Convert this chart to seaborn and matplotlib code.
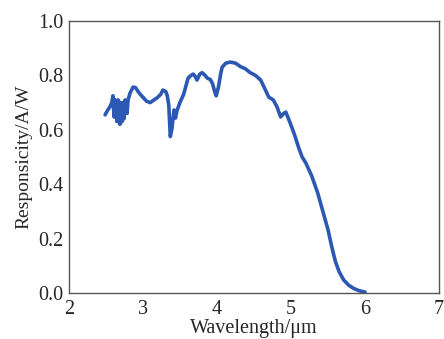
import numpy as np
import pandas as pd
import matplotlib.pyplot as plt
import seaborn as sns

# curve
wavelength = [2.49, 2.52, 2.556, 2.58, 2.596, 2.61, 2.625, 2.637, 2.65, 2.665, 2.678,
              2.69, 2.705, 2.718, 2.73, 2.745, 2.76, 2.772, 2.786, 2.80, 2.827, 2.867,
              2.90, 2.95, 3.00, 3.05, 3.10, 3.15, 3.19, 3.24, 3.27, 3.31, 3.33, 3.35,
              3.37, 3.39, 3.42, 3.44, 3.46, 3.50, 3.55, 3.61, 3.65, 3.68, 3.71, 3.73,
              3.77, 3.80, 3.84, 3.87, 3.91, 3.94, 3.97, 3.99, 4.02, 4.05, 4.07, 4.12,
              4.18, 4.25, 4.32, 4.38, 4.45, 4.52, 4.59, 4.64, 4.70, 4.76, 4.81, 4.86,
              4.90, 4.93, 4.96, 5.00, 5.05, 5.10, 5.15, 5.20, 5.28, 5.36, 5.43, 5.50,
              5.55, 5.60, 5.65, 5.71, 5.78, 5.85, 5.92, 6.00]
responsivity = [0.655, 0.67, 0.685, 0.70, 0.725, 0.647, 0.71, 0.70, 0.63, 0.71, 0.70,
                0.62, 0.70, 0.63, 0.70, 0.64, 0.71, 0.70, 0.66, 0.71, 0.735, 0.757,
                0.755, 0.735, 0.72, 0.705, 0.70, 0.71, 0.717, 0.73, 0.746, 0.74, 0.725,
                0.69, 0.575, 0.60, 0.673, 0.643, 0.67, 0.70, 0.73, 0.79, 0.80, 0.805,
                0.795, 0.783, 0.805, 0.81, 0.80, 0.79, 0.785, 0.77, 0.74, 0.725, 0.757,
                0.805, 0.83, 0.845, 0.849, 0.845, 0.832, 0.825, 0.81, 0.80, 0.783, 0.755,
                0.72, 0.71, 0.685, 0.647, 0.66, 0.665, 0.645, 0.617, 0.58, 0.537, 0.50,
                0.478, 0.43, 0.368, 0.30, 0.232, 0.17, 0.115, 0.078, 0.048, 0.028, 0.016,
                0.008, 0.003]

df = pd.DataFrame({"Wavelength": wavelength, "Responsivity": responsivity})

sns.set_style("white")
plt.rcParams['font.family'] = ['Liberation Serif', 'DejaVu Serif']

fig = plt.figure(figsize=(4.44, 3.39), dpi=100)
ax = fig.add_axes([0.155, 0.136, 0.834, 0.802])

sns.lineplot(data=df, x="Wavelength", y="Responsivity", color='#2b58b2',
             linewidth=2.6, ax=ax)

ax.set_xlim(2, 7)
ax.set_ylim(0, 1.0)
ax.set_xticks([2, 3, 4, 5, 6, 7])
ax.set_yticks([0.0, 0.2, 0.4, 0.6, 0.8, 1.0])
ax.set_yticklabels(["0.0", "0.2", "0.4", "0.6", "0.8", "1.0"])
ax.set_xlabel("Wavelength/μm", fontsize=14.5, labelpad=0)
ax.set_ylabel("Responsicity/A/W", fontsize=14, labelpad=4)

for s in ax.spines.values():
    s.set_color('#555555')
    s.set_linewidth(1.0)
ax.tick_params(axis='x', direction='in', length=4, width=1, color='#555555',
               labelsize=14.5, pad=5)
ax.tick_params(axis='y', direction='out', length=4, width=1, color='#555555',
               labelsize=14.5, pad=0)

fig.savefig("out.png", dpi=100)
